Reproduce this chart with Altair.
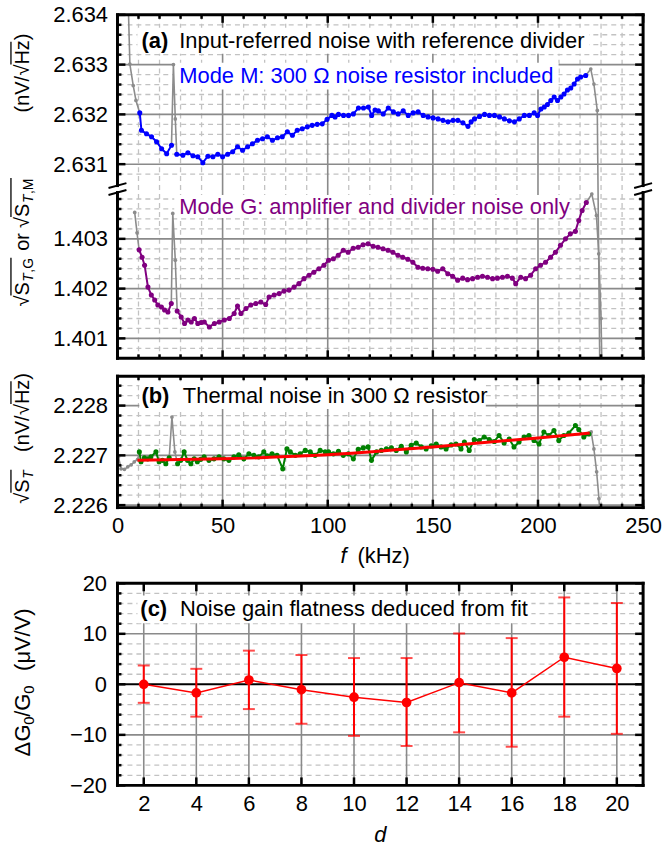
import altair as alt
import numpy as np
import pandas as pd

FONT = "Liberation Sans"
BLUE, PURPLE, GREEN, RED, GRAY = "#0000ff", "#800080", "#008000", "#ff0000", "#8c8c8c"

# ---------------- panel (a): mode M (blue) ----------------
M_f = [10.6, 11.4, 13.8, 16.2, 18.6, 21.0, 23.4, 25.7, 28.2, 31.1, 33.5, 35.9, 38.2, 40.6, 43.0, 45.4,
       47.7, 50.0, 52.4, 54.8, 57.1, 59.5, 61.9, 64.2, 66.6, 69.0, 71.3, 73.7, 76.1, 78.4, 80.8, 83.2,
       85.5, 87.9, 90.3, 92.6, 95.0, 97.4, 99.7, 102.0, 103.5, 105.1, 107.5, 109.9, 112.2, 114.6, 117.0,
       119.3, 120.9, 122.5, 124.1, 126.4, 128.8, 131.2, 133.5, 135.9, 138.3, 140.6, 143.0, 145.4, 147.7,
       150.1, 152.5, 154.8, 157.2, 159.6, 161.9, 164.3, 166.7, 168.2, 169.8, 172.2, 174.6, 176.9, 179.3,
       181.7, 184.0, 186.4, 188.8, 191.1, 193.5, 195.9, 198.2, 199.8, 201.4, 203.0, 204.5, 206.1, 207.7,
       209.3, 210.9, 212.4, 214.0, 215.6, 217.2, 218.8, 220.3, 222.7]
M_v = [2.63203, 2.63168, 2.63161, 2.63155, 2.63145, 2.63131, 2.63121, 2.63138, 2.63120, 2.63118, 2.63123,
       2.63117, 2.63115, 2.63103, 2.63116, 2.63115, 2.63120, 2.63115, 2.63120, 2.63125, 2.63135, 2.63128,
       2.63135, 2.63141, 2.63148, 2.63151, 2.63155, 2.63148, 2.63153, 2.63155, 2.63165, 2.63158, 2.63168,
       2.63171, 2.63175, 2.63178, 2.63180, 2.63181, 2.63190, 2.63198, 2.63195, 2.63200, 2.63198, 2.63198,
       2.63201, 2.63213, 2.63213, 2.63215, 2.63198, 2.63209, 2.63207, 2.63201, 2.63213, 2.63205, 2.63201,
       2.63207, 2.63198, 2.63203, 2.63205, 2.63198, 2.63195, 2.63193, 2.63191, 2.63188, 2.63185, 2.63188,
       2.63188, 2.63183, 2.63176, 2.63185, 2.63191, 2.63196, 2.63200, 2.63198, 2.63198, 2.63195, 2.63191,
       2.63187, 2.63185, 2.63191, 2.63198, 2.63198, 2.63203, 2.63198, 2.63211, 2.63215, 2.63220, 2.63228,
       2.63235, 2.63228, 2.63235, 2.63241, 2.63249, 2.63253, 2.63261, 2.63271, 2.63275, 2.63278]
M_left_f = [4.0, 5.9, 7.5, 8.8]
M_left_v = [2.63600, 2.63301, 2.63258, 2.63228]
M_spike_f = [26.6, 27.5]
M_spike_v = [2.63300, 2.63191]
M_right_f = [225.1, 226.6, 228.2, 231.0]
M_right_v = [2.63291, 2.63261, 2.63208, 2.62000]

# ---------------- panel (a): mode G (purple) ----------------
G_f = [10.3, 11.7, 12.9, 14.5, 16.1, 17.7, 19.2, 20.9, 22.4, 24.0, 25.6, 28.4, 30.3, 31.9, 33.5, 35.1,
       36.6, 38.2, 39.8, 41.3, 43.7, 46.1, 48.4, 50.8, 53.2, 55.5, 57.1, 58.7, 61.1, 63.4, 65.8, 68.2,
       70.5, 72.1, 74.5, 76.9, 79.2, 81.6, 84.0, 86.3, 88.7, 91.1, 93.4, 95.8, 98.2, 100.4, 102.7, 105.0,
       107.4, 109.7, 112.1, 114.5, 116.8, 119.2, 121.6, 123.9, 126.3, 128.7, 131.0, 133.4, 135.7, 138.1,
       140.5, 142.9, 145.2, 147.6, 150.0, 152.3, 154.7, 157.1, 159.4, 161.8, 164.2, 166.5, 168.9, 171.3,
       173.6, 176.0, 178.4, 180.7, 183.1, 185.5, 187.8, 189.4, 191.8, 194.1, 196.5, 198.9, 201.2, 203.6,
       206.0, 208.3, 210.7, 213.1, 215.4, 217.8, 219.4, 221.0, 223.0]
G_v = [1.40278, 1.40263, 1.40247, 1.40203, 1.40187, 1.40177, 1.40167, 1.40163, 1.40157, 1.40153, 1.40170,
       1.40155, 1.40143, 1.40130, 1.40137, 1.40133, 1.40140, 1.40130, 1.40132, 1.40133, 1.40123, 1.40130,
       1.40133, 1.40137, 1.40140, 1.40150, 1.40165, 1.40150, 1.40160, 1.40167, 1.40170, 1.40173, 1.40168,
       1.40183, 1.40187, 1.40190, 1.40195, 1.40197, 1.40203, 1.40210, 1.40220, 1.40227, 1.40233, 1.40240,
       1.40247, 1.40257, 1.40260, 1.40267, 1.40277, 1.40273, 1.40281, 1.40283, 1.40288, 1.40290, 1.40285,
       1.40283, 1.40280, 1.40277, 1.40273, 1.40267, 1.40263, 1.40259, 1.40253, 1.40243, 1.40241, 1.40240,
       1.40239, 1.40235, 1.40240, 1.40230, 1.40225, 1.40217, 1.40221, 1.40218, 1.40220, 1.40223, 1.40225,
       1.40223, 1.40220, 1.40221, 1.40223, 1.40225, 1.40221, 1.40210, 1.40223, 1.40220, 1.40227, 1.40240,
       1.40247, 1.40253, 1.40263, 1.40273, 1.40287, 1.40300, 1.40310, 1.40315, 1.40337, 1.40357, 1.40373]
G_left_f = [8.2, 9.3]
G_left_v = [1.40353, 1.40312]
G_spike_f = [26.3, 27.5]
G_spike_v = [1.40351, 1.40257]
G_right_f = [225.6, 227.8, 228.9, 230.0, 231.0]
G_right_v = [1.40390, 1.40347, 1.40270, 1.40140, 1.39900]

# ---------------- panel (b): thermal noise (green) ----------------
B_f = [10.4, 11.2, 12.8, 14.4, 15.9, 18.3, 19.8, 21.4, 23.0, 24.6, 28.6, 30.1, 31.7, 33.3, 34.9, 36.5,
       38.0, 39.6, 41.2, 43.5, 45.9, 48.3, 50.6, 53.0, 55.4, 57.7, 60.1, 62.5, 64.9, 67.2, 69.6, 71.2,
       73.5, 75.9, 78.6, 80.6, 82.2, 84.6, 86.9, 89.3, 91.7, 94.0, 96.4, 98.8, 100.4, 102.7, 105.1, 107.4,
       109.8, 112.2, 114.5, 116.9, 119.2, 120.8, 123.2, 125.5, 127.9, 130.3, 132.6, 135.0, 137.4, 139.7,
       142.1, 144.5, 146.8, 149.2, 151.6, 153.9, 156.3, 158.7, 161.0, 163.4, 165.0, 167.3, 169.7, 172.1,
       174.4, 176.8, 179.2, 181.5, 183.9, 186.3, 188.6, 191.0, 193.4, 195.7, 198.1, 200.5, 202.8, 205.2,
       207.6, 209.9, 212.3, 214.7, 217.8, 219.4, 221.8, 224.2]
B_v = [2.22707, 2.22687, 2.22695, 2.22693, 2.22697, 2.22707, 2.22687, 2.22690, 2.22683, 2.22695, 2.22683,
       2.22690, 2.22707, 2.22690, 2.22683, 2.22693, 2.22687, 2.22692, 2.22697, 2.22690, 2.22693, 2.22697,
       2.22693, 2.22690, 2.22697, 2.22701, 2.22693, 2.22703, 2.22700, 2.22697, 2.22707, 2.22699, 2.22703,
       2.22700, 2.22673, 2.22713, 2.22707, 2.22700, 2.22703, 2.22710, 2.22707, 2.22700, 2.22710, 2.22707,
       2.22707, 2.22703, 2.22708, 2.22700, 2.22703, 2.22693, 2.22712, 2.22715, 2.22717, 2.22690, 2.22707,
       2.22710, 2.22713, 2.22715, 2.22710, 2.22718, 2.22707, 2.22720, 2.22725, 2.22717, 2.22713, 2.22719,
       2.22723, 2.22717, 2.22713, 2.22721, 2.22723, 2.22713, 2.22727, 2.22710, 2.22732, 2.22730, 2.22737,
       2.22732, 2.22728, 2.22740, 2.22725, 2.22733, 2.22717, 2.22727, 2.22737, 2.22740, 2.22730, 2.22723,
       2.22747, 2.22740, 2.22750, 2.22730, 2.22740, 2.22745, 2.22760, 2.22752, 2.22737, 2.22743]
B_left_f = [0.5, 1.7, 3.3, 4.9, 6.5, 8.0, 9.6]
B_left_v = [2.22697, 2.22673, 2.22672, 2.22677, 2.22681, 2.22687, 2.22692]
B_spike_f = [25.9, 27.3]
B_spike_v = [2.22777, 2.22707]
B_right_f = [225.3, 226.6, 227.9, 229.0, 230.5]
B_right_v = [2.22747, 2.22713, 2.22667, 2.22613, 2.22500]
FIT_f = [9.5, 50.0, 100.0, 150.0, 200.0, 224.6]
FIT_v = [2.22690, 2.22693, 2.22701, 2.22717, 2.22735, 2.22745]

# ---------------- panel (c): gain flatness ----------------
C_d = [2, 4, 6, 8, 10, 12, 14, 16, 18, 20]
C_v = [0.0, -1.7, 0.85, -1.05, -2.55, -3.6, 0.33, -1.7, 5.36, 3.14]
C_hi = [3.73, 3.07, 6.67, 5.8, 5.2, 5.2, 10.07, 9.15, 17.2, 16.1]
C_lo = [-3.66, -6.4, -4.9, -7.8, -10.2, -12.2, -9.5, -12.35, -6.4, -9.8]

# axis labels / tick lists
A_LOW_LABELS = [1.401, 1.402, 1.403]
A_HIGH_LABELS = [2.631, 2.632, 2.633, 2.634]
B_LABELS = [2.226, 2.227, 2.228]
F_LABELS = [0, 50, 100, 150, 200, 250]
C_XLABELS = [2, 4, 6, 8, 10, 12, 14, 16, 18, 20]
C_YLABELS = [-20, -10, 0, 10, 20]

OFFSET = 2.6305 - 1.4040  # vertical shift of the mode-M section above the axis break

W = 528
HA, HB, HC = 345, 132, 203
ONE = pd.DataFrame({"k": [0]})

DASH = dict(color="#c2c2c2", strokeWidth=1.3, strokeDash=[5, 4])
SOLID = dict(color="#8a8a8a", strokeWidth=1.6)
TICK = dict(color="black", strokeWidth=2.5)
FRAME = dict(color="black", strokeWidth=3, strokeCap="square")


def r(a, n=6):
    return [round(float(v), n) for v in a]


def vrules(vals, X, **kw):
    return alt.Chart(pd.DataFrame({"x": vals})).mark_rule(**kw).encode(x=X)


def hrules(vals, Y, **kw):
    return alt.Chart(pd.DataFrame({"y": vals})).mark_rule(**kw).encode(y=Y)


def ticks(X, Y, H, xmaj, xmin, ymaj, ymin):
    out = []
    for vals, L in ((xmaj, 8), (xmin, 4)):
        if len(vals):
            d = pd.DataFrame({"x": vals})
            out.append(alt.Chart(d).mark_rule(**TICK).encode(x=X, y=alt.value(0), y2=alt.value(L)))
            out.append(alt.Chart(d).mark_rule(**TICK).encode(x=X, y=alt.value(H - L), y2=alt.value(H)))
    for vals, L in ((ymaj, 8), (ymin, 4)):
        if len(vals):
            d = pd.DataFrame({"y": vals})
            out.append(alt.Chart(d).mark_rule(**TICK).encode(y=Y, x=alt.value(0), x2=alt.value(L)))
            out.append(alt.Chart(d).mark_rule(**TICK).encode(y=Y, x=alt.value(W - L), x2=alt.value(W)))
    return out


def frame(H, gap=None):
    out = [alt.Chart(ONE).mark_rule(**FRAME).encode(x=alt.value(0), x2=alt.value(W), y=alt.value(0)),
           alt.Chart(ONE).mark_rule(**FRAME).encode(x=alt.value(0), x2=alt.value(W), y=alt.value(H))]
    for xx in (0, W):
        if gap is None:
            out.append(alt.Chart(ONE).mark_rule(**FRAME).encode(x=alt.value(xx), y=alt.value(0), y2=alt.value(H)))
        else:
            out.append(alt.Chart(ONE).mark_rule(**FRAME).encode(x=alt.value(xx), y=alt.value(0), y2=alt.value(gap[0])))
            out.append(alt.Chart(ONE).mark_rule(**FRAME).encode(x=alt.value(xx), y=alt.value(gap[1]), y2=alt.value(H)))
    return out


def label(text, x, y, X, Y, color="black", weight="normal", size=22):
    return alt.Chart(pd.DataFrame({"x": [x], "y": [y]})).mark_text(
        text=text, font=FONT, fontSize=size, fontWeight=weight, color=color,
        align="left", baseline="middle").encode(x=X, y=Y)


def box(x1, x2, y1, y2, X, Y):
    return alt.Chart(pd.DataFrame({"x": [x1], "x2": [x2], "y": [y1], "y2": [y2]})).mark_rect(
        color="white", opacity=1).encode(x=X, x2="x2:Q", y=Y, y2="y2:Q")


def rtxt(text, x, y, size=20, style="normal", angle=270, align="left", baseline="alphabetic"):
    return alt.Chart(ONE).mark_text(text=text, font=FONT, fontSize=size, fontStyle=style, angle=angle,
                                    align=align, baseline=baseline, color="black").encode(
        x=alt.value(x), y=alt.value(y))


def oline(x, y1, y2):
    return alt.Chart(ONE).mark_rule(color="black", strokeWidth=1.3).encode(
        x=alt.value(x), y=alt.value(y1), y2=alt.value(y2))


def series(f, v, lf, lv, sf, sv, rf, rv, X, Y, color, shift=0.0):
    tr = lambda a: [round(q - shift, 7) for q in a]
    s0 = sf[0]
    seg = [0 if q < s0 else 1 for q in f]
    col = pd.DataFrame({"x": f, "y": tr(v), "seg": seg})
    ib = max(i for i, q in enumerate(f) if q < s0)
    gx = list(lf) + [f[0]] + [f[ib]] + list(sf) + [f[ib + 1]] + [f[-1]] + list(rf)
    gy = list(lv) + [v[0]] + [v[ib]] + list(sv) + [v[ib + 1]] + [v[-1]] + list(rv)
    gs = [0] * (len(lf) + 1) + [1] * (len(sf) + 2) + [2] * (len(rf) + 1)
    gray = pd.DataFrame({"x": gx, "y": tr(gy), "seg": gs})
    gpts = pd.DataFrame({"x": list(lf) + list(sf) + list(rf), "y": tr(list(lv) + list(sv) + list(rv))})
    return [
        alt.Chart(gray).mark_line(color=GRAY, strokeWidth=1.6, clip=True).encode(x=X, y=Y, detail="seg:N"),
        alt.Chart(gpts).mark_circle(color=GRAY, size=14, opacity=1, clip=True).encode(x=X, y=Y),
        alt.Chart(col).mark_line(color=color, strokeWidth=2, clip=True).encode(x=X, y=Y, detail="seg:N"),
        alt.Chart(col).mark_circle(color=color, size=26, opacity=1, clip=True).encode(x=X, y=Y),
    ]


# ======================= panel (a) =======================
A_major = r(A_LOW_LABELS + [h - OFFSET for h in A_HIGH_LABELS])
A_minor = r(list(np.arange(1.4008, 1.40385, 0.0002)) + [h - OFFSET for h in np.arange(2.6308, 2.63405, 0.0002)])
A_dash = [u for u in A_minor if all(abs(u - m) > 1e-6 for m in A_major)]
A_top = r([2.634 - OFFSET])[0]
F_major = F_LABELS
F_minor = [v for v in range(0, 251, 10) if v % 50]

xsA = alt.Scale(domain=[0, 250], nice=False, zero=False)
ysA = alt.Scale(domain=[1.4006, A_top], nice=False, zero=False)
XA = alt.X("x:Q", scale=xsA, axis=None)
labexpr = f"datum.value > 1.404 ? format(datum.value + {OFFSET}, '.3f') : format(datum.value, '.3f')"
YA = alt.Y("y:Q", scale=ysA, axis=alt.Axis(values=A_major, labelExpr=labexpr, ticks=False, domain=False,
                                           grid=False, labelPadding=10, labelFontSize=22, labelFont=FONT,
                                           labelColor="black", title=None, labelOverlap=False, labelFlush=False))
ybk = (A_top - 1.4040) / (A_top - 1.4006) * HA

A_layers = [vrules(F_minor, XA, **DASH), hrules(A_dash, YA, **DASH),
            vrules([50, 100, 150, 200], XA, **SOLID), hrules(A_major, YA, **SOLID)]
A_layers += [box(9.5, 224.3, 1.40724, 1.40672, XA, YA),
             box(26.5, 209.8, 1.40654, 1.40600, XA, YA),
             box(27.0, 215.0, 1.40388, 1.40342, XA, YA)]
A_layers += [label("(a)", 11.4, 1.40698, XA, YA, weight="bold"),
             label("Input-referred noise with reference divider", 29.4, 1.40698, XA, YA),
             label("Mode M: 300 \u03a9 noise resistor included", 29.4, 1.40628, XA, YA, color=BLUE),
             label("Mode G: amplifier and divider noise only", 29.4, 1.40364, XA, YA, color=PURPLE)]
A_layers += series(M_f, M_v, M_left_f, M_left_v, M_spike_f, M_spike_v, M_right_f, M_right_v, XA, YA, BLUE, OFFSET)
A_layers += series(G_f, G_v, G_left_f, G_left_v, G_spike_f, G_spike_v, G_right_f, G_right_v, XA, YA, PURPLE)
A_layers += ticks(XA, YA, HA, F_major, F_minor, A_major, A_dash)
A_layers += frame(HA, gap=(ybk - 3.5, ybk + 3.5))
for xx in (0, W):
    for dy in (-3.5, 3.5):
        A_layers.append(alt.Chart(ONE).mark_rule(color="black", strokeWidth=2).encode(
            x=alt.value(xx - 9), x2=alt.value(xx + 9), y=alt.value(ybk + dy + 2.5), y2=alt.value(ybk + dy - 2.5)))
# invisible spacer below panel (a) (white on white) to set the gap above panel (b)
A_layers.append(alt.Chart(ONE).mark_rule(color="white", strokeWidth=2).encode(
    x=alt.value(200), x2=alt.value(210), y=alt.value(HA + 7.5)))
# y title of (a) (absolute positions minus panel origin 121,14)
ox, oy = 121, 14
A_layers += [rtxt("\u221a", 32 - ox, 307 - oy), rtxt("S", 32 - ox, 296 - oy),
             rtxt("T", 36 - ox, 282 - oy, 14, "italic"), rtxt(",G", 36 - ox, 273 - oy, 14),
             rtxt("or", 32 - ox, 251 - oy),
             rtxt("\u221a", 32 - ox, 228 - oy), rtxt("S", 32 - ox, 217 - oy),
             rtxt("T", 36 - ox, 203 - oy, 14, "italic"), rtxt(",M", 36 - ox, 194 - oy, 14),
             rtxt("(nV/", 32 - ox, 112 - oy), rtxt("\u221a", 32 - ox, 75 - oy), rtxt("Hz)", 32 - ox, 64 - oy),
             oline(14 - ox, 296 - oy, 258 - oy), oline(14 - ox, 217 - oy, 178 - oy), oline(14 - ox, 64 - oy, 41 - oy)]
panelA = alt.layer(*A_layers).properties(width=W, height=HA)

# ======================= panel (b) =======================
B_top = 2.22859
xsB = alt.Scale(domain=[0, 250], nice=False, zero=False)
ysB = alt.Scale(domain=[2.22595, B_top], nice=False, zero=False)
XB = alt.X("x:Q", scale=xsB, axis=alt.Axis(values=F_LABELS, ticks=False, domain=False, grid=False,
                                           labelPadding=8, labelFontSize=22, labelFont=FONT, labelColor="black",
                                           title=None, labelFlush=False, labelOverlap=False))
YB = alt.Y("y:Q", scale=ysB, axis=alt.Axis(values=B_LABELS, format=".3f", ticks=False, domain=False, grid=False,
                                           labelPadding=10, labelFontSize=22, labelFont=FONT, labelColor="black",
                                           title=None, labelOverlap=False, labelFlush=False))
B_minor = r(np.arange(2.2262, 2.22850, 0.0002))
B_dash = [u for u in B_minor if all(abs(u - m) > 1e-6 for m in B_LABELS)]
B_layers = [vrules(F_minor, XB, **DASH), hrules(B_dash, YB, **DASH),
            vrules([50, 100, 150, 200], XB, **SOLID), hrules(B_LABELS, YB, **SOLID)]
B_layers += [box(10.4, 175.2, 2.22845, 2.22793, XB, YB),
             label("(b)", 11.4, 2.22819, XB, YB, weight="bold"),
             label("Thermal noise in 300 \u03a9 resistor", 31.1, 2.22819, XB, YB)]
B_layers += series(B_f, B_v, B_left_f, B_left_v, B_spike_f, B_spike_v, B_right_f, B_right_v, XB, YB, GREEN)
B_layers.append(alt.Chart(pd.DataFrame({"x": FIT_f, "y": FIT_v})).mark_line(
    color=RED, strokeWidth=3, interpolate="monotone").encode(x=XB, y=YB))
B_layers += ticks(XB, YB, HB, F_major, F_minor, B_LABELS, B_dash)
B_layers += frame(HB)
ox, oy = 121, 374
B_layers += [rtxt("\u221a", 32 - ox, 502 - oy), rtxt("S", 32 - ox, 491 - oy),
             rtxt("T", 36 - ox, 477 - oy, 14, "italic"),
             rtxt("(nV/", 32 - ox, 450 - oy), rtxt("\u221a", 32 - ox, 413 - oy), rtxt("Hz)", 32 - ox, 402 - oy),
             oline(14 - ox, 491 - oy, 468 - oy), oline(14 - ox, 402 - oy, 379 - oy),
             rtxt("f", 345 - ox, 562 - oy, 22, "italic", angle=0),
             rtxt("(kHz)", 362 - ox, 562 - oy, 22, angle=0)]
panelB = alt.layer(*B_layers).properties(width=W, height=HB)

# ======================= panel (c) =======================
xsC = alt.Scale(domain=[1, 21], nice=False, zero=False)
ysC = alt.Scale(domain=[-20, 20], nice=False, zero=False)
XC = alt.X("x:Q", scale=xsC, axis=alt.Axis(values=C_XLABELS, ticks=False, domain=False, grid=False,
                                           labelPadding=8, labelFontSize=22, labelFont=FONT, labelColor="black",
                                           title=None, labelFlush=False, labelOverlap=False))
yax = alt.Axis(values=C_YLABELS, ticks=False, domain=False, grid=False, labelPadding=11, labelFontSize=22,
               labelFont=FONT, labelColor="black", title=None, labelOverlap=False, labelFlush=False)
YC = alt.Y("y:Q", scale=ysC, axis=yax)
C_minor = [v for v in range(-18, 20, 2) if v % 10]
cdf = pd.DataFrame({"x": C_d, "y": C_v, "lo": C_lo, "hi": C_hi})
C_layers = [hrules(C_minor, YC, **DASH), vrules(C_XLABELS, XC, **SOLID), hrules([-10, 10], YC, **SOLID),
            hrules([0], YC, color="black", strokeWidth=2)]
C_layers += [box(1.76, 16.75, 17.6, 12.1, XC, YC),
             label("(c)", 1.87, 14.9, XC, YC, weight="bold"),
             label("Noise gain flatness deduced from fit", 3.375, 14.9, XC, YC)]
C_layers += [
    alt.Chart(cdf).mark_rule(color=RED, strokeWidth=2).encode(
        x=XC, y=alt.Y("lo:Q", scale=ysC, axis=yax), y2="hi:Q"),
    alt.Chart(cdf).mark_tick(color=RED, thickness=2, size=12, orient="horizontal").encode(
        x=XC, y=alt.Y("lo:Q", scale=ysC, axis=yax)),
    alt.Chart(cdf).mark_tick(color=RED, thickness=2, size=12, orient="horizontal").encode(
        x=XC, y=alt.Y("hi:Q", scale=ysC, axis=yax)),
    alt.Chart(cdf).mark_line(color=RED, strokeWidth=1.5).encode(x=XC, y=YC),
    alt.Chart(cdf).mark_circle(color=RED, size=95, opacity=1).encode(x=XC, y=YC),
]
C_layers += ticks(XC, YC, HC, C_XLABELS, [], C_YLABELS, C_minor)
C_layers += frame(HC)
ox, oy = 121, 583
C_layers += [rtxt("\u0394", 33 - ox, 757 - oy, 22), rtxt("G", 33 - ox, 742 - oy, 22),
             rtxt("0", 37 - ox, 725 - oy, 15), rtxt("/", 33 - ox, 717 - oy, 22),
             rtxt("G", 33 - ox, 711 - oy, 22), rtxt("0", 37 - ox, 694 - oy, 15),
             rtxt("(\u03bcV/V)", 33 - ox, 671 - oy, 22),
             rtxt("d", 385 - ox, 843 - oy, 22, "italic", angle=0, align="center")]
panelC = alt.layer(*C_layers).properties(width=W, height=HC)

chart = alt.vconcat(panelA, panelB, panelC, spacing=5).properties(
    padding={"left": 10, "top": 2, "right": 5, "bottom": 2}, background="white"
).configure_view(stroke=None)

chart.save("out.html", embed_options={"renderer": "svg", "actions": False})
